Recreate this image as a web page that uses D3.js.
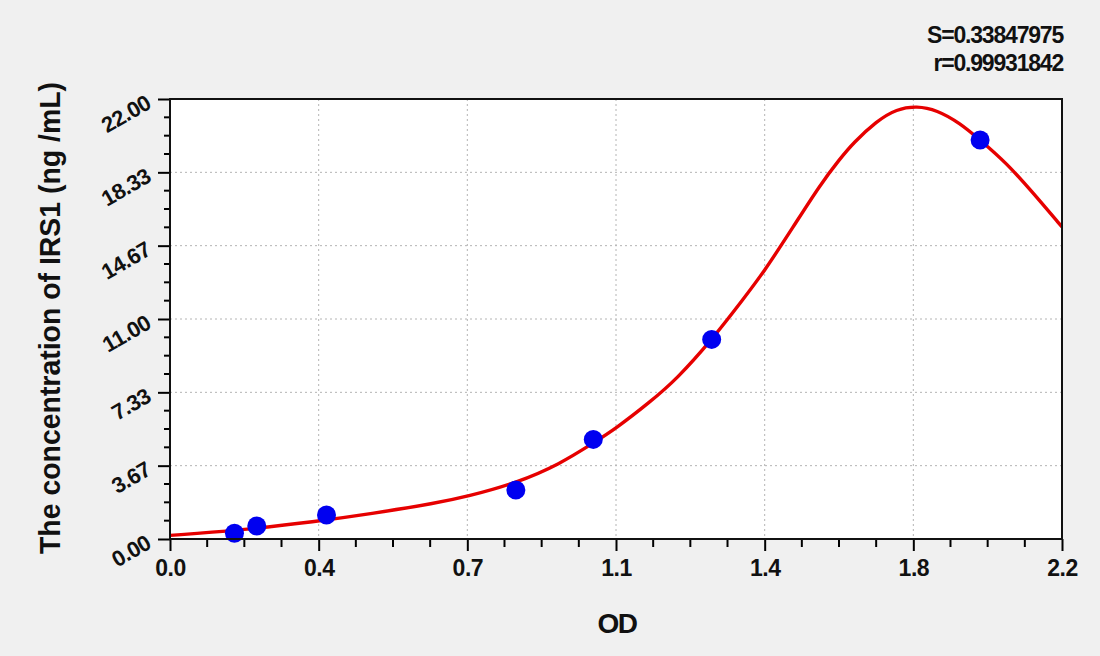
<!DOCTYPE html>
<html>
<head>
<meta charset="utf-8">
<script src="https://cdn.jsdelivr.net/npm/d3@7"></script>
<style>
  html, body { margin: 0; padding: 0; background: #f0f0f0; }
  svg { display: block; }
  text { font-family: "Liberation Sans", Arial, sans-serif; font-weight: bold; fill: #111; }
</style>
</head>
<body>
<svg id="chart" width="1100" height="656"></svg>
<script>
// ---- data ----
const pointOD   = [0.159, 0.214, 0.386, 0.853, 1.044, 1.336, 1.998];
const pointConc = [0.29, 0.65, 1.20, 2.45, 4.98, 9.98, 19.95];

const curveOD   = [0.000, 0.164, 0.362, 0.493, 0.658, 0.732, 0.855, 0.962, 1.044, 1.098, 1.184, 1.250, 1.336, 1.414, 1.463, 1.537, 1.603, 1.652, 1.685, 1.743, 1.792, 1.842, 1.891, 1.948, 1.998, 2.063, 2.129, 2.200];
const curveConc = [0.18, 0.42, 0.88, 1.25, 1.80, 2.12, 2.80, 3.75, 4.80, 5.50, 6.85, 8.00, 9.95, 12.00, 13.30, 15.60, 17.70, 19.00, 19.80, 20.90, 21.50, 21.65, 21.45, 20.80, 19.95, 18.80, 17.30, 15.60];

const xTickValues = [0, 0.3667, 0.7333, 1.1, 1.4667, 1.8333, 2.2];
const xTickLabels = ["0.0", "0.4", "0.7", "1.1", "1.4", "1.8", "2.2"];
const yTickValues = [0, 3.6667, 7.3333, 11, 14.6667, 18.3333, 22];
const yTickLabels = ["0.00", "3.67", "7.33", "11.00", "14.67", "18.33", "22.00"];

const xTitle = "OD";
const yTitle = "The concentration of IRS1 (ng /mL)";
const statLines = ["S=0.33847975", "r=0.99931842"];

// ---- layout ----
const L = 170, R = 1062, T = 99, B = 539;
const svg = d3.select("#chart");
const x = d3.scaleLinear().domain([0, 2.2]).range([L, R]);
const y = d3.scaleLinear().domain([0, 22]).range([B, T]);

svg.append("rect").attr("x", L).attr("y", T).attr("width", R - L).attr("height", B - T).attr("fill", "#fff");

// grid
const grid = svg.append("g");
grid.selectAll("line.vx").data(xTickValues.slice(1, -1)).join("line")
  .attr("x1", d => x(d)).attr("x2", d => x(d)).attr("y1", T).attr("y2", B)
  .attr("stroke", "#b4b4b4").attr("stroke-width", 1).attr("stroke-dasharray", "2,3");
grid.selectAll("line.hy").data(yTickValues.slice(1, -1)).join("line")
  .attr("y1", d => y(d)).attr("y2", d => y(d)).attr("x1", L).attr("x2", R)
  .attr("stroke", "#b4b4b4").attr("stroke-width", 1).attr("stroke-dasharray", "2,3");

function minors(vals) {
  const out = [];
  for (let i = 0; i < vals.length - 1; i++) {
    const a = vals[i], b = vals[i + 1];
    for (let k = 1; k < 4; k++) out.push(a + (b - a) * k / 4);
  }
  return out;
}

// x axis
const xAxis = svg.append("g").attr("transform", `translate(0,${B})`)
  .call(d3.axisBottom(x).tickValues(xTickValues).tickSize(12).tickSizeOuter(0)
    .tickFormat((d, i) => xTickLabels[i]));
xAxis.select(".domain").remove();
xAxis.attr("font-size", null).attr("font-family", null);
xAxis.selectAll(".tick line").attr("stroke", "#000").attr("stroke-width", 2);
xAxis.selectAll(".tick text").attr("dy", 0).attr("y", 37)
  .style("font-size", "23px").style("font-family", "Liberation Sans, Arial, sans-serif")
  .style("font-weight", "bold").style("letter-spacing", "-0.5px").attr("fill", "#000");
svg.append("g").selectAll("line").data(minors(xTickValues)).join("line")
  .attr("x1", d => x(d)).attr("x2", d => x(d)).attr("y1", B).attr("y2", B + 8)
  .attr("stroke", "#000").attr("stroke-width", 2);

// y axis
const yAxis = svg.append("g").attr("transform", `translate(${L},0)`)
  .call(d3.axisLeft(y).tickValues(yTickValues).tickSize(12).tickSizeOuter(0)
    .tickFormat((d, i) => yTickLabels[i]));
yAxis.select(".domain").remove();
yAxis.attr("font-size", null).attr("font-family", null);
yAxis.selectAll(".tick line").attr("stroke", "#000").attr("stroke-width", 2);
yAxis.selectAll(".tick text")
  .attr("x", -22).attr("dy", 0).attr("y", 9)
  .attr("transform", "rotate(-30,-22,0)")
  .attr("text-anchor", "end")
  .style("font-size", "22px").style("font-family", "Liberation Sans, Arial, sans-serif")
  .style("font-weight", "bold").style("letter-spacing", "-0.5px").attr("fill", "#000");
svg.append("g").selectAll("line").data(minors(yTickValues)).join("line")
  .attr("y1", d => y(d)).attr("y2", d => y(d)).attr("x1", L).attr("x2", L - 6)
  .attr("stroke", "#000").attr("stroke-width", 2);

svg.append("clipPath").attr("id", "clip").append("rect")
  .attr("x", L).attr("y", T).attr("width", R - L).attr("height", B - T);

// curve
const curveData = curveOD.map((v, i) => [v, curveConc[i]]);
const line = d3.line().x(d => x(d[0])).y(d => y(d[1])).curve(d3.curveBasis);
svg.append("path").datum(curveData).attr("d", line).attr("clip-path", "url(#clip)")
  .attr("fill", "none").attr("stroke", "#e60000").attr("stroke-width", 3.4);

// points
const pts = pointOD.map((v, i) => [v, pointConc[i]]);
svg.append("g").selectAll("circle").data(pts).join("circle")
  .attr("cx", d => x(d[0])).attr("cy", d => y(d[1])).attr("r", 9.5)
  .attr("fill", "#0000f0");

// frame
svg.append("rect").attr("x", L).attr("y", T).attr("width", R - L).attr("height", B - T)
  .attr("fill", "none").attr("stroke", "#111").attr("stroke-width", 2);

// titles
svg.append("text").attr("x", 617).attr("y", 633).attr("text-anchor", "middle")
  .style("font-size", "28px").style("letter-spacing", "-1.5px").attr("fill", "#000").text(xTitle);
svg.append("text").attr("transform", "translate(60,318) rotate(-90)")
  .attr("text-anchor", "middle").style("font-size", "30px").attr("fill", "#000")
  .attr("textLength", 472).attr("lengthAdjust", "spacingAndGlyphs").text(yTitle);

// stats
svg.selectAll("text.stat").data(statLines).join("text").attr("class", "stat")
  .attr("x", 1063).attr("y", (d, i) => 43 + i * 28).attr("text-anchor", "end")
  .style("font-size", "23px").style("letter-spacing", "-1.2px").attr("fill", "#000").text(d => d);
</script>
</body>
</html>
